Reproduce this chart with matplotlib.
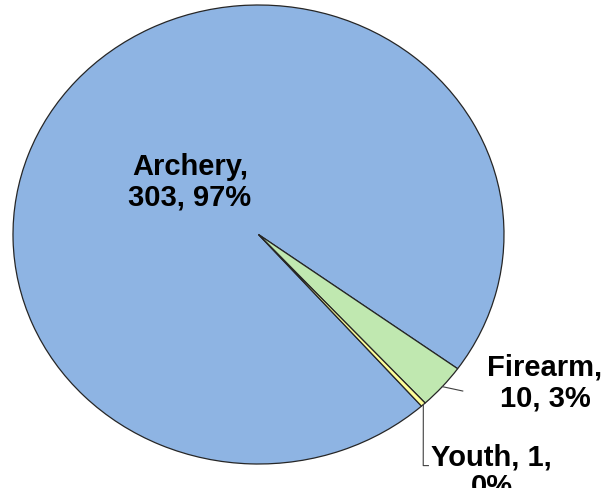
import numpy as np
import matplotlib
matplotlib.use("Agg")
import matplotlib.pyplot as plt

plt.rcParams['font.family'] = ['Liberation Sans', 'DejaVu Sans']

labels = ['Archery', 'Firearm', 'Youth']
counts = [303, 10, 1]
pcts = [97, 3, 0]   # as printed on the chart
colors = ['#8EB4E3', '#C0E8B0', '#FFFF99']

texts = ['%s,\n%d, %d%%' % (l, c, p) for l, c, p in zip(labels, counts, pcts)]
texts[2] = '%s, %d,\n%d%%' % (labels[2], counts[2], pcts[2])

fig = plt.figure(figsize=(6.15, 4.89), dpi=100)
# pie box is slightly wider than tall in the reference
ax = fig.add_axes([13 / 615, 24 / 489, 491 / 615, 459 / 489])
wedges, _ = ax.pie(counts, colors=colors, startangle=-48.4, counterclock=False,
                   wedgeprops=dict(edgecolor='#262626', linewidth=0.9))
ax.set_aspect('auto')
ax.set_xlim(-1, 1)
ax.set_ylim(-1, 1)
ax.axis('off')

def edge_point(w):
    a = np.deg2rad((w.theta1 + w.theta2) / 2)
    return np.cos(a), np.sin(a)

font = dict(fontsize=21, fontweight='bold', ha='center', va='center',
            linespacing=1.1, color='black')

# Archery label inside
ax.text(-0.279, 0.233, texts[0], **font)

# Firearm label with leader
fx, fy = edge_point(wedges[1])
ax.plot([fx, 0.832], [fy, -0.682], color='#404040', lw=0.8, clip_on=False)
ax.text(1.167, -0.643, texts[1], clip_on=False, **font)

# Youth label with bent leader, cut by the bottom edge like the original
yx, yy = edge_point(wedges[2])
ax.plot([yx, 0.671, 0.692], [yy, -1.007, -1.007], color='#404040', lw=0.8,
        clip_on=False)
font_y = dict(font, va='top')
ax.text(0.95, -0.905, texts[2], clip_on=False, **font_y)

fig.savefig('out.png', dpi=100)
